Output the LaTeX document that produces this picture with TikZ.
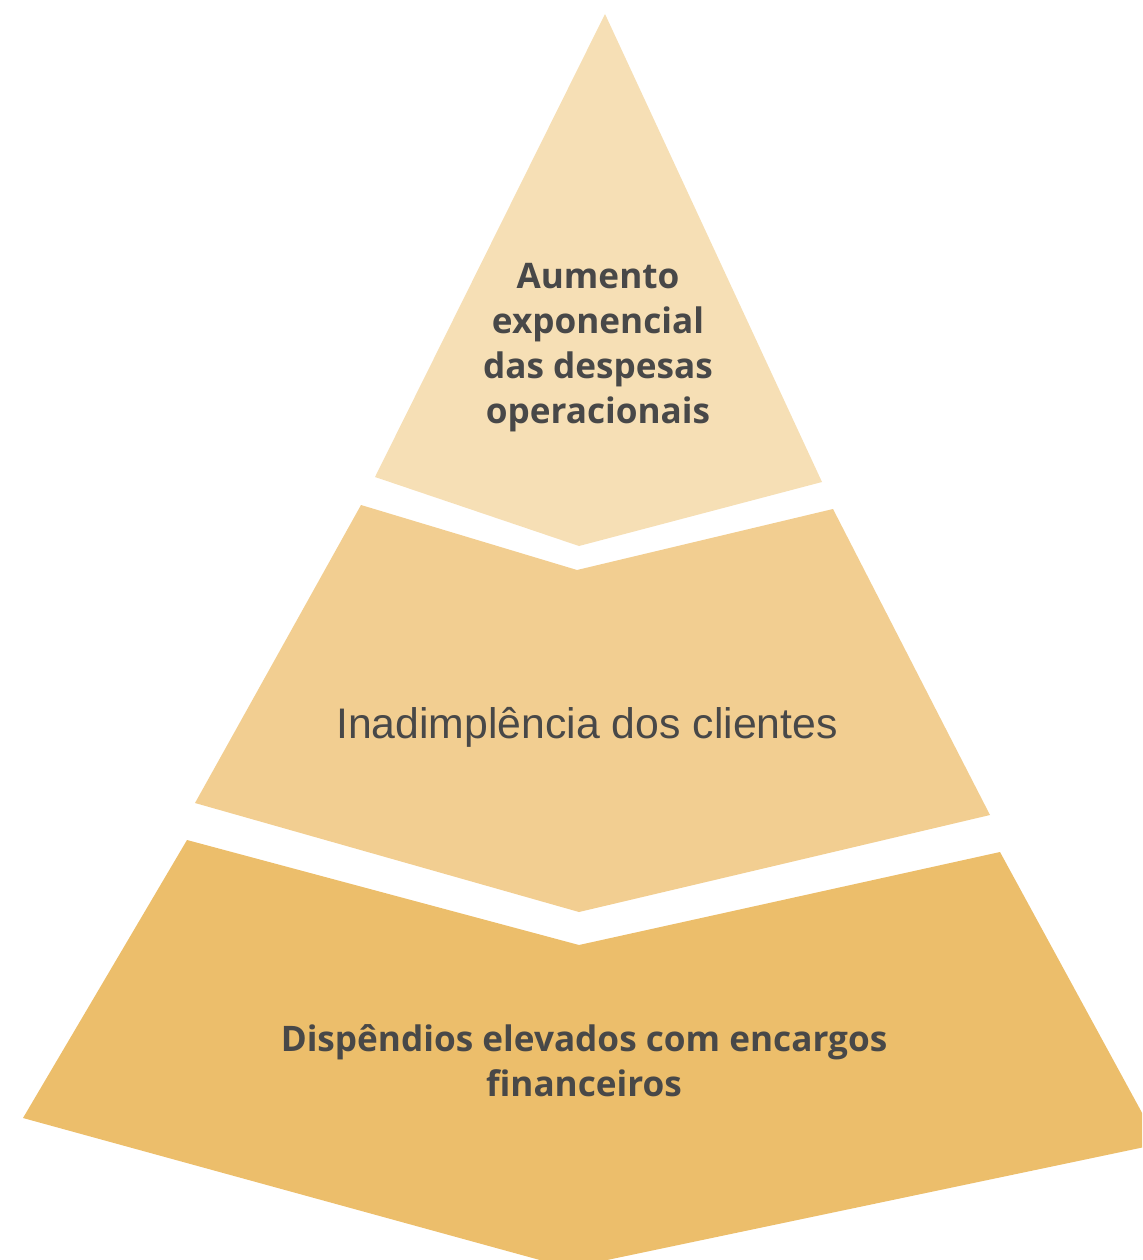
\documentclass[tikz,border=0pt]{standalone}
\usepackage{fontspec}
\setmainfont{Liberation Sans}
\newfontfamily\tierfont{Open Sans}
\definecolor{tierone}{HTML}{F6DFB5}
\definecolor{tiertwo}{HTML}{F2CE91}
\definecolor{tierthree}{HTML}{ECBE6B}
\definecolor{textgray}{HTML}{484848}

\begin{document}
\begin{tikzpicture}[x=0.025cm, y=-0.025cm]
\tikzstyle{tiertext} = [text=textgray, align=center, inner sep=0pt]
\tikzstyle{boldtext} = [tiertext, font=\tierfont\bfseries\fontsize{25}{32}\selectfont]

\useasboundingbox (0,0) rectangle (1142,1260);
\clip (0,0) rectangle (1142,1260);

\fill[tierone] (605,14) -- (822,482) -- (579,546) -- (375,477) -- cycle;
\fill[tiertwo] (361,505) -- (577,570) -- (833,509) -- (990,815) -- (579,912) -- (195,803) -- cycle;
\fill[tierthree] (187,840) -- (579,945) -- (1000,852) -- (1159,1144) -- (569,1268) -- (23,1118) -- cycle;

\node[boldtext] (top) at (598,348) {Aumento\\exponencial\\das despesas\\operacionais};
\node[tiertext, font=\fontsize{30.4}{36}\selectfont] (mid) at (587,727) {Inadimpl\^encia dos clientes};
\node[boldtext] (bottom) at (584,1061) {Disp\^endios elevados com encargos\\financeiros};
\end{tikzpicture}
\end{document}
